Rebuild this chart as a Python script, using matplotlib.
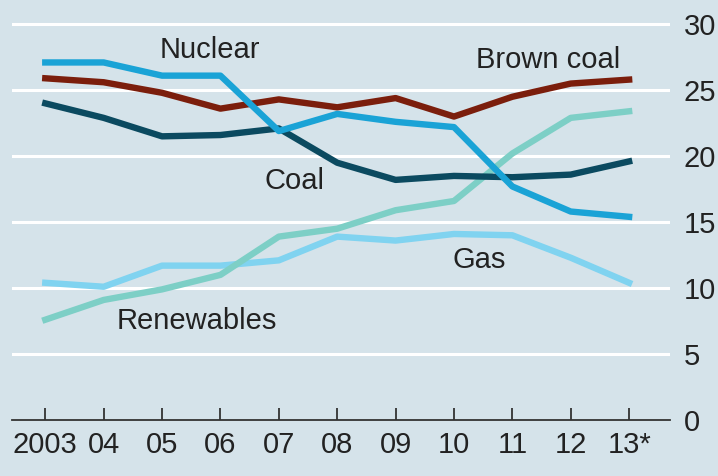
import matplotlib
matplotlib.use("Agg")
import matplotlib.pyplot as plt
from matplotlib import font_manager

years = [2003, 2004, 2005, 2006, 2007, 2008, 2009, 2010, 2011, 2012, 2013]
xlabels = ["2003", "04", "05", "06", "07", "08", "09", "10", "11", "12", "13*"]

nuclear = [27.1, 27.1, 26.1, 26.1, 21.9, 23.2, 22.6, 22.2, 17.7, 15.8, 15.4]
brown_coal = [25.9, 25.6, 24.8, 23.6, 24.3, 23.7, 24.4, 23.0, 24.5, 25.5, 25.8]
coal = [24.0, 22.9, 21.5, 21.6, 22.1, 19.5, 18.2, 18.5, 18.4, 18.6, 19.6]
renewables = [7.6, 9.1, 9.9, 11.0, 13.9, 14.5, 15.9, 16.6, 20.2, 22.9, 23.4]
gas = [10.4, 10.1, 11.7, 11.7, 12.1, 13.9, 13.6, 14.1, 14.0, 12.3, 10.4]
yticks = [0, 5, 10, 15, 20, 25, 30]

avail = {f.name for f in font_manager.fontManager.ttflist}
fam = [f for f in ["Liberation Sans Narrow", "Liberation Sans", "DejaVu Sans"] if f in avail]
plt.rcParams["font.family"] = fam

W, H = 718, 476
bg = "#d5e3ea"
fig = plt.figure(figsize=(W / 100, H / 100), dpi=100, facecolor=bg)
left, right = 12, 670
top_px, bot_px = 11, 420
ax = fig.add_axes([left / W, 1 - bot_px / H, (right - left) / W, (bot_px - top_px) / H])
ax.set_facecolor(bg)
ax.set_xlim(2002.43, 2013.70)
ax.set_ylim(0, 31)

for y in yticks[1:]:
    ax.axhline(y, color="white", lw=2.2, zorder=1)

lw = 4.6
ax.plot(years, gas, color="#80d3f0", lw=lw, zorder=3, solid_joinstyle="round")
ax.plot(years, renewables, color="#7dcfc6", lw=lw, zorder=4, solid_joinstyle="round")
ax.plot(years, coal, color="#0b4a60", lw=lw, zorder=5, solid_joinstyle="round")
ax.plot(years, nuclear, color="#1aa3d6", lw=lw, zorder=6, solid_joinstyle="round")
ax.plot(years, brown_coal, color="#7b1e0c", lw=lw, zorder=5, solid_joinstyle="round")

for s in ["top", "left", "right"]:
    ax.spines[s].set_visible(False)
ax.spines["bottom"].set_color("#333333")
ax.spines["bottom"].set_linewidth(1.3)

ax.set_xticks(years)
ax.set_xticklabels(xlabels)
ax.tick_params(axis="x", direction="in", length=9, width=1.3, color="#333333",
               labelsize=21, labelcolor="#222222", pad=8)
ax.yaxis.tick_right()
ax.set_yticks(yticks)
ax.set_yticklabels([str(v) for v in yticks])
ax.tick_params(axis="y", length=0, labelsize=21, labelcolor="#222222", pad=10)

tc = "#222222"
fs = 21
def px(x, y):
    return fig.transFigure.inverted().transform((x, H - y))
for txt, (x, y) in [("Nuclear", (210, 50)), ("Brown coal", (548, 60)),
                    ("Coal", (295, 181)), ("Gas", (479, 260)),
                    ("Renewables", (197, 321))]:
    fx, fy = px(x, y)
    fig.text(fx, fy, txt, ha="center", va="center", fontsize=fs, color=tc)

fig.savefig("out.png", dpi=100, facecolor=bg)
